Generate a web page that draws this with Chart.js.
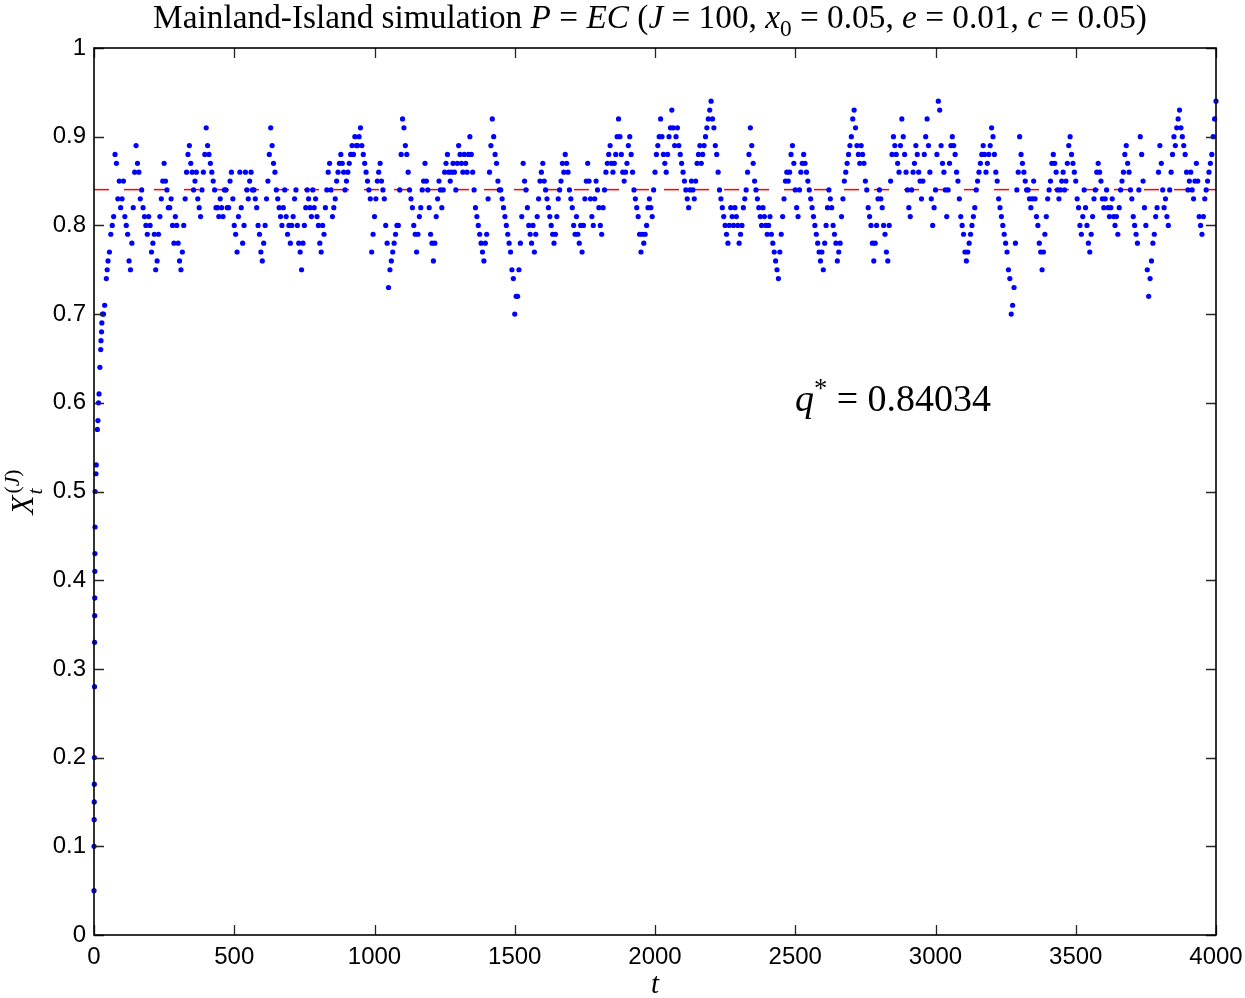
<!DOCTYPE html>
<html><head><meta charset="utf-8">
<script src="https://cdn.jsdelivr.net/npm/chart.js@4.4.0/dist/chart.umd.min.js"></script>
<style>html,body{margin:0;padding:0;background:#fff;overflow:hidden}#wrap{width:1245px;height:998px;position:relative}</style>
</head><body><div id="wrap"><canvas id="c" width="1245" height="998"></canvas></div>
<script>
// ---- data ----
const riseTimes = [0,0.3,0.6,0.9,1.2,1.5,1.8,2.1,2.4,2.7,3.0,3.3,3.6,4,7,8,12,14,16,18,21,24,25,27,28,30,34,38,44,47];
const riseValues = [0.05,0.10,0.13,0.15,0.17,0.20,0.28,0.33,0.36,0.38,0.41,0.43,0.46,0.50,0.52,0.53,0.57,0.58,0.60,0.61,0.64,0.66,0.67,0.68,0.69,0.70,0.70,0.71,0.74,0.75];
// readings at t = 50, 60, ..., 4000
const sampleStart = 50, sampleStep = 10;
const sampleValues = [
0.76,0.79,0.81,0.87,0.85,0.83,0.81,0.79,0.75,0.82,
0.89,0.86,0.84,0.81,0.79,0.80,0.78,0.75,0.79,0.83,
0.87,0.84,0.82,0.80,0.81,0.78,0.75,0.80,0.86,0.89,
0.86,0.85,0.83,0.81,0.86,0.91,0.88,0.86,0.84,0.82,
0.83,0.81,0.84,0.82,0.86,0.80,0.77,0.86,0.78,0.86,
0.83,0.86,0.84,0.82,0.79,0.76,0.80,0.85,0.91,0.87,
0.84,0.82,0.80,0.84,0.79,0.78,0.81,0.84,0.78,0.75,
0.80,0.84,0.82,0.84,0.83,0.80,0.77,0.79,0.84,0.87,
0.81,0.83,0.86,0.88,0.86,0.85,0.87,0.89,0.90,0.89,
0.91,0.88,0.86,0.84,0.77,0.81,0.85,0.87,0.84,0.80,
0.73,0.76,0.78,0.80,0.84,0.92,0.89,0.86,0.83,0.80,
0.77,0.81,0.84,0.87,0.84,0.79,0.76,0.81,0.85,0.82,
0.86,0.88,0.85,0.87,0.84,0.89,0.87,0.88,0.86,0.90,
0.86,0.82,0.80,0.78,0.76,0.79,0.86,0.92,0.88,0.85,
0.84,0.82,0.80,0.78,0.75,0.70,0.72,0.78,0.87,0.84,
0.80,0.78,0.77,0.81,0.85,0.87,0.84,0.82,0.80,0.78,
0.81,0.84,0.87,0.88,0.86,0.83,0.80,0.81,0.78,0.77,
0.83,0.87,0.83,0.80,0.85,0.82,0.79,0.84,0.87,0.89,
0.86,0.88,0.92,0.88,0.85,0.87,0.90,0.86,0.83,0.81,
0.77,0.78,0.80,0.83,0.81,0.86,0.89,0.92,0.88,0.86,
0.90,0.93,0.89,0.91,0.88,0.86,0.84,0.82,0.85,0.83,
0.87,0.89,0.88,0.90,0.92,0.94,0.91,0.88,0.84,0.82,
0.80,0.78,0.82,0.80,0.81,0.78,0.80,0.83,0.86,0.91,
0.87,0.84,0.82,0.80,0.81,0.79,0.81,0.78,0.76,0.74,
0.79,0.83,0.86,0.86,0.89,0.84,0.81,0.86,0.88,0.86,
0.84,0.82,0.80,0.78,0.76,0.75,0.80,0.84,0.82,0.79,
0.76,0.78,0.83,0.86,0.88,0.90,0.93,0.89,0.87,0.88,
0.85,0.82,0.80,0.76,0.80,0.84,0.82,0.79,0.76,0.85,
0.90,0.88,0.86,0.92,0.88,0.84,0.81,0.86,0.89,0.86,
0.83,0.88,0.92,0.86,0.80,0.84,0.94,0.89,0.86,0.81,
0.87,0.90,0.88,0.85,0.81,0.79,0.76,0.78,0.80,0.82,
0.85,0.87,0.89,0.86,0.88,0.91,0.88,0.85,0.82,0.80,
0.78,0.75,0.70,0.73,0.84,0.90,0.87,0.85,0.84,0.82,
0.85,0.81,0.78,0.75,0.79,0.83,0.85,0.88,0.86,0.83,
0.85,0.84,0.87,0.90,0.87,0.85,0.82,0.79,0.84,0.80,
0.77,0.81,0.84,0.87,0.85,0.82,0.84,0.81,0.83,0.80,
0.79,0.84,0.86,0.89,0.86,0.83,0.80,0.78,0.90,0.85,
0.80,0.72,0.76,0.79,0.82,0.89,0.84,0.83,0.80,0.86,
0.90,0.91,0.93,0.90,0.88,0.84,0.86,0.83,0.87,0.81,
0.79,0.83,0.85,0.87,0.90,0.94];
// readings at t = 55, 65, ..., 3995
const midStart = 55, midStep = 10;
const midValues = [
0.77,0.80,0.88,0.83,0.82,0.85,0.80,0.76,0.78,0.86,
0.87,0.83,0.82,0.80,0.81,0.77,0.79,0.76,0.81,0.85,
0.85,0.82,0.83,0.78,0.80,0.76,0.77,0.83,0.88,0.87,
0.84,0.86,0.82,0.84,0.88,0.89,0.87,0.85,0.82,0.81,
0.82,0.84,0.82,0.85,0.83,0.79,0.81,0.82,0.80,0.84,
0.85,0.84,0.83,0.80,0.77,0.78,0.83,0.88,0.89,0.86,
0.83,0.81,0.82,0.81,0.80,0.80,0.83,0.80,0.77,0.78,
0.82,0.83,0.81,0.82,0.81,0.78,0.80,0.82,0.86,0.84,
0.82,0.85,0.87,0.87,0.84,0.86,0.88,0.88,0.89,0.90,
0.89,0.87,0.85,0.83,0.79,0.83,0.86,0.85,0.83,0.78,
0.75,0.77,0.79,0.80,0.88,0.91,0.88,0.84,0.82,0.79,
0.79,0.82,0.85,0.85,0.82,0.78,0.78,0.83,0.84,0.84,
0.87,0.86,0.86,0.86,0.87,0.88,0.86,0.87,0.88,0.88,
0.84,0.81,0.79,0.77,0.78,0.83,0.89,0.90,0.87,0.84,
0.83,0.81,0.79,0.77,0.74,0.72,0.75,0.81,0.85,0.82,
0.79,0.80,0.79,0.83,0.86,0.85,0.83,0.81,0.79,0.79,
0.83,0.85,0.86,0.87,0.84,0.82,0.79,0.79,0.80,0.80,
0.85,0.85,0.81,0.83,0.84,0.80,0.82,0.86,0.88,0.87,
0.87,0.90,0.90,0.86,0.86,0.89,0.88,0.84,0.82,0.79,
0.79,0.79,0.82,0.82,0.84,0.88,0.90,0.90,0.87,0.88,
0.91,0.91,0.90,0.89,0.87,0.85,0.83,0.84,0.84,0.85,
0.88,0.87,0.89,0.91,0.93,0.92,0.89,0.86,0.83,0.81,
0.79,0.80,0.81,0.82,0.80,0.79,0.82,0.84,0.88,0.89,
0.85,0.83,0.81,0.82,0.80,0.80,0.79,0.77,0.75,0.77,
0.81,0.85,0.85,0.88,0.87,0.82,0.84,0.87,0.87,0.85,
0.83,0.81,0.79,0.77,0.77,0.78,0.82,0.83,0.80,0.78,
0.77,0.81,0.85,0.87,0.89,0.92,0.91,0.88,0.89,0.87,
0.84,0.81,0.78,0.78,0.83,0.83,0.80,0.77,0.80,0.88,
0.89,0.87,0.89,0.90,0.86,0.82,0.84,0.87,0.88,0.85,
0.85,0.90,0.89,0.83,0.82,0.88,0.93,0.87,0.84,0.84,
0.89,0.89,0.86,0.83,0.80,0.77,0.77,0.79,0.81,0.84,
0.86,0.88,0.88,0.87,0.89,0.90,0.86,0.83,0.81,0.79,
0.77,0.74,0.71,0.78,0.86,0.88,0.86,0.84,0.83,0.83,
0.83,0.80,0.77,0.77,0.81,0.84,0.87,0.87,0.84,0.84,
0.86,0.85,0.89,0.88,0.86,0.83,0.80,0.81,0.82,0.78,
0.79,0.83,0.86,0.86,0.83,0.83,0.82,0.82,0.81,0.81,
0.82,0.85,0.88,0.87,0.84,0.81,0.79,0.84,0.88,0.82,
0.75,0.74,0.78,0.81,0.86,0.87,0.82,0.81,0.84,0.88,
0.89,0.92,0.91,0.89,0.86,0.85,0.84,0.85,0.85,0.80,
0.81,0.84,0.86,0.88,0.92];
const qStar = 0.84034;
const tRange = [0, 4000];
const xTickValues = [0,500,1000,1500,2000,2500,3000,3500,4000];
const yTickValues = [0,0.1,0.2,0.3,0.4,0.5,0.6,0.7,0.8,0.9,1];

// ---- build points ----
const points = [];
riseTimes.forEach((t,i)=>points.push({x:t,y:riseValues[i]}));
sampleValues.forEach((v,i)=>points.push({x:sampleStart+i*sampleStep,y:v}));
midValues.forEach((v,i)=>points.push({x:midStart+i*midStep,y:v}));

const SERIF = '"Liberation Serif","DejaVu Serif",serif';
const SANS = '"Liberation Sans",Arial,sans-serif';

function segWidth(ctx, segs, size){
  let w=0;
  for(const s of segs){
    const fs = s.sub||s.sup ? size*0.7 : size;
    ctx.font = (s.i?'italic ':'')+fs+'px '+SERIF;
    w += ctx.measureText(s.t).width;
  }
  return w;
}
function drawSegs(ctx, segs, x, y, size){
  let cx = x;
  for(const s of segs){
    const fs = s.sub||s.sup ? size*0.7 : size;
    ctx.font = (s.i?'italic ':'')+fs+'px '+SERIF;
    const dy = s.sub ? size*0.25 : (s.sup ? -size*0.38 : 0);
    ctx.fillText(s.t, cx, y+dy);
    cx += ctx.measureText(s.t).width;
  }
  return cx;
}

const decor = {
  id:'decor',
  afterDatasetsDraw(chart){
    const ctx = chart.ctx, a = chart.chartArea;
    const xs = chart.scales.x, ys = chart.scales.y;
    ctx.save();
    ctx.strokeStyle = '#262626'; ctx.lineWidth = 1.3;
    const tl = 10;
    ctx.beginPath();
    xTickValues.forEach(v=>{
      const px = Math.round(xs.getPixelForValue(v))+0.5;
      ctx.moveTo(px, a.bottom); ctx.lineTo(px, a.bottom-tl);
      ctx.moveTo(px, a.top); ctx.lineTo(px, a.top+tl);
    });
    yTickValues.forEach(v=>{
      const py = Math.round(ys.getPixelForValue(v))+0.5;
      ctx.moveTo(a.left, py); ctx.lineTo(a.left+tl, py);
      ctx.moveTo(a.right, py); ctx.lineTo(a.right-tl, py);
    });
    ctx.stroke();
    ctx.strokeStyle = '#000'; ctx.lineWidth = 1.6;
    ctx.strokeRect(a.left, a.top, a.right-a.left, a.bottom-a.top);
    ctx.fillStyle = '#000'; ctx.textBaseline = 'alphabetic'; ctx.textAlign = 'left';
    const title = [{t:'Mainland-Island simulation '},{t:'P',i:1},{t:' = '},{t:'EC',i:1},{t:' ('},{t:'J',i:1},{t:' = 100, '},{t:'x',i:1},{t:'0',sub:1},{t:' = 0.05, '},{t:'e',i:1},{t:' = 0.01, '},{t:'c',i:1},{t:' = 0.05)'}];
    const w100 = segWidth(ctx, title, 100);
    const ts = 100*994/w100;
    drawSegs(ctx, title, 650 - segWidth(ctx,title,ts)/2, 28, ts);
    const ann = [{t:'q',i:1},{t:'*',sup:1},{t:' = 0.84034'}];
    const aw = segWidth(ctx, ann, 100);
    const as = 100*196/aw;
    drawSegs(ctx, ann, 795, 411, as);
    ctx.font = 'italic 29px '+SERIF;
    ctx.textAlign='center';
    ctx.fillText('t', 655, 993);
    ctx.translate(33, 493); ctx.rotate(-Math.PI/2);
    ctx.textAlign='left';
    const ysz = 31;
    ctx.font = 'italic '+ysz+'px '+SERIF;
    const xw = ctx.measureText('X').width;
    const sup = [{t:'(',sup:1},{t:'J',i:1,sup:1},{t:')',sup:1}];
    const supW = segWidth(ctx, sup, ysz);
    const total = xw + supW;
    const x0 = -total/2;
    ctx.font = 'italic '+ysz+'px '+SERIF;
    ctx.fillText('X', x0, 0);
    ctx.font = 'italic '+(ysz*0.7)+'px '+SERIF;
    ctx.fillText('t', x0+xw+1, ysz*0.28);
    drawSegs(ctx, sup, x0+xw+2, -ysz*0.08, ysz);
    ctx.restore();
  }
};

new Chart(document.getElementById('c'), {
  type:'scatter',
  data:{datasets:[
    {label:'X', data:points, order:0, pointRadius:2.6, pointHoverRadius:2.6, pointBorderWidth:0, backgroundColor:'#0000ff', borderColor:'#0000ff', clip:false, showLine:false},
    {label:'q*', type:'line', data:[{x:tRange[0],y:qStar},{x:tRange[1],y:qStar}], order:1, borderColor:'#ff0000', borderWidth:1.5, borderDash:[15,15], pointRadius:0, fill:false}
  ]},
  options:{
    responsive:false, animation:false, devicePixelRatio:1,
    layout:{padding:{top:48,right:29,left:0,bottom:0}},
    plugins:{legend:{display:false},tooltip:{enabled:false},title:{display:false}},
    scales:{
      x:{type:'linear', min:tRange[0], max:tRange[1],
        afterBuildTicks:s=>{s.ticks = xTickValues.map(v=>({value:v}));},
        afterFit:s=>{s.height = 63; s.paddingLeft = 0; s.paddingRight = 0;},
        grid:{display:false, drawTicks:false}, border:{display:false},
        ticks:{font:{family:SANS,size:24}, color:'#000', padding:8, maxRotation:0, autoSkip:false, callback:v=>String(v)}},
      y:{type:'linear', min:0, max:1,
        afterBuildTicks:s=>{s.ticks = yTickValues.map(v=>({value:v}));},
        afterFit:s=>{s.width = 94; s.paddingTop = 0; s.paddingBottom = 0;},
        grid:{display:false, drawTicks:false}, border:{display:false},
        ticks:{font:{family:SANS,size:24}, color:'#000', padding:8, autoSkip:false, callback:v=>(v===0?'0':v===1?'1':v.toFixed(1))}}
    }
  },
  plugins:[decor]
});
</script></body></html>
